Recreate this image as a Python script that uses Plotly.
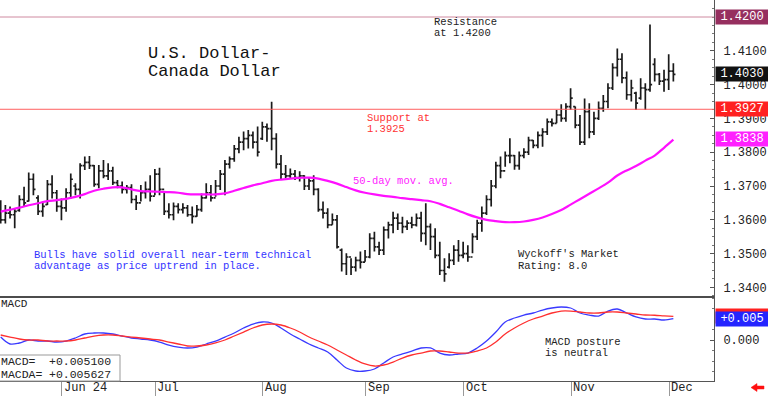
import plotly.graph_objects as go
import pandas as pd

# ---------------- data ----------------
high = [1.3658,1.3644,1.3639,1.3634,1.3673,1.3698,1.3740,1.3737,1.3673,1.3654,
        1.3718,1.3732,1.3688,1.3663,1.3693,1.3737,1.3708,1.3767,1.3787,1.3789,
        1.3762,1.3762,1.3777,1.3767,1.3757,1.3718,1.3713,1.3703,1.3705,1.3673,
        1.3703,1.3713,1.3732,1.3750,1.3754,1.3683,1.3649,1.3651,1.3649,1.3649,
        1.3644,1.3639,1.3644,1.3678,1.3708,1.3703,1.3718,1.3747,1.3777,1.3787,
        1.3821,1.3846,1.3861,1.3866,1.3861,1.3876,1.3890,1.3885,1.3949,1.3856,
        1.3792,1.3762,1.3752,1.3747,1.3744,1.3732,1.3727,1.3732,1.3693,1.3654,
        1.3634,1.3619,1.3614,1.3515,1.3501,1.3486,1.3491,1.3506,1.3511,1.3560,
        1.3565,1.3535,1.3580,1.3594,1.3624,1.3619,1.3609,1.3599,1.3609,1.3619,
        1.3624,1.3649,1.3589,1.3575,1.3535,1.3486,1.3501,1.3525,1.3540,1.3535,
        1.3525,1.3560,1.3600,1.3639,1.3673,1.3718,1.3772,1.3787,1.3802,1.3841,
        1.3792,1.3802,1.3812,1.3846,1.3836,1.3861,1.3871,1.3900,1.3900,1.3925,
        1.3942,1.3945,1.3989,1.3935,1.3910,1.3959,1.3945,1.3920,1.3950,1.3969,
        1.4004,1.4063,1.4107,1.4093,1.4039,1.4014,1.3979,1.4019,1.4004,1.4178,
        1.4078,1.4034,1.4044,1.4090,1.4063]
low = [1.3589,1.3589,1.3604,1.3575,1.3624,1.3639,1.3654,1.3673,1.3614,1.3609,
       1.3644,1.3663,1.3624,1.3599,1.3624,1.3663,1.3673,1.3663,1.3747,1.3750,
       1.3698,1.3693,1.3723,1.3718,1.3703,1.3693,1.3678,1.3678,1.3649,1.3629,
       1.3654,1.3663,1.3654,1.3673,1.3673,1.3614,1.3604,1.3599,1.3619,1.3619,
       1.3609,1.3589,1.3609,1.3624,1.3663,1.3654,1.3668,1.3688,1.3673,1.3752,
       1.3772,1.3797,1.3806,1.3811,1.3811,1.3787,1.3836,1.3831,1.3806,1.3752,
       1.3718,1.3723,1.3723,1.3718,1.3713,1.3688,1.3688,1.3673,1.3624,1.3604,
       1.3575,1.3585,1.3515,1.3447,1.3437,1.3437,1.3447,1.3456,1.3476,1.3486,
       1.3506,1.3496,1.3496,1.3545,1.3560,1.3570,1.3560,1.3570,1.3575,1.3580,
       1.3535,1.3525,1.3511,1.3486,1.3437,1.3417,1.3456,1.3466,1.3476,1.3486,
       1.3476,1.3501,1.3540,1.3565,1.3614,1.3639,1.3693,1.3723,1.3757,1.3767,
       1.3748,1.3748,1.3782,1.3792,1.3812,1.3812,1.3816,1.3851,1.3876,1.3886,
       1.3890,1.3890,1.3925,1.3871,1.3821,1.3821,1.3841,1.3851,1.3895,1.3920,
       1.3930,1.3984,1.4024,1.4004,1.3955,1.3950,1.3925,1.3955,1.3925,1.3979,
       1.4009,1.3999,1.3979,1.3984,1.4009]
open_ = [1.3640,1.3600,1.3620,1.3615,1.3628,1.3660,1.3655,1.3720,1.3665,1.3625,
         1.3645,1.3705,1.3680,1.3640,1.3635,1.3680,1.3700,1.3690,1.3760,1.3770,
         1.3760,1.3705,1.3745,1.3730,1.3745,1.3710,1.3700,1.3690,1.3695,1.3660,
         1.3650,1.3680,1.3690,1.3670,1.3735,1.3690,1.3625,1.3615,1.3640,1.3630,
         1.3635,1.3615,1.3610,1.3630,1.3665,1.3680,1.3665,1.3700,1.3735,1.3765,
         1.3780,1.3810,1.3830,1.3840,1.3850,1.3830,1.3840,1.3875,1.3870,1.3840,
         1.3765,1.3735,1.3730,1.3735,1.3725,1.3730,1.3700,1.3715,1.3690,1.3630,
         1.3620,1.3585,1.3600,1.3510,1.3470,1.3490,1.3460,1.3480,1.3475,1.3490,
         1.3545,1.3520,1.3510,1.3570,1.3585,1.3605,1.3590,1.3580,1.3590,1.3585,
         1.3605,1.3560,1.3580,1.3550,1.3495,1.3450,1.3460,1.3480,1.3510,1.3495,
         1.3500,1.3490,1.3550,1.3590,1.3620,1.3660,1.3700,1.3760,1.3745,1.3790,
         1.3790,1.3760,1.3790,1.3800,1.3835,1.3820,1.3850,1.3860,1.3890,1.3885,
         1.3910,1.3900,1.3935,1.3935,1.3880,1.3830,1.3920,1.3860,1.3900,1.3930,
         1.3950,1.3990,1.4050,1.4075,1.4020,1.3970,1.3975,1.3960,1.3990,1.3985,
         1.4060,1.4030,1.4010,1.4015,1.4040]
close = [1.3600,1.3620,1.3615,1.3625,1.3660,1.3650,1.3720,1.3690,1.3625,1.3640,
         1.3705,1.3680,1.3640,1.3635,1.3680,1.3720,1.3690,1.3760,1.3770,1.3760,
         1.3705,1.3745,1.3730,1.3745,1.3710,1.3700,1.3690,1.3695,1.3660,1.3650,
         1.3680,1.3690,1.3670,1.3735,1.3690,1.3625,1.3615,1.3640,1.3630,1.3635,
         1.3615,1.3610,1.3630,1.3665,1.3680,1.3665,1.3700,1.3735,1.3765,1.3780,
         1.3810,1.3830,1.3840,1.3850,1.3830,1.3800,1.3875,1.3870,1.3840,1.3765,
         1.3735,1.3730,1.3735,1.3725,1.3730,1.3700,1.3715,1.3690,1.3630,1.3620,
         1.3585,1.3600,1.3520,1.3470,1.3490,1.3460,1.3480,1.3475,1.3490,1.3545,
         1.3520,1.3510,1.3570,1.3585,1.3605,1.3590,1.3580,1.3590,1.3585,1.3605,
         1.3560,1.3580,1.3550,1.3495,1.3450,1.3440,1.3480,1.3510,1.3495,1.3500,
         1.3490,1.3550,1.3590,1.3620,1.3660,1.3700,1.3760,1.3745,1.3790,1.3790,
         1.3760,1.3790,1.3800,1.3835,1.3820,1.3850,1.3860,1.3890,1.3885,1.3910,
         1.3900,1.3935,1.3960,1.3880,1.3830,1.3920,1.3860,1.3900,1.3930,1.3950,
         1.3990,1.4050,1.4075,1.4020,1.3970,1.3990,1.3945,1.3990,1.3985,1.4000,
         1.4030,1.4010,1.4015,1.4040,1.4030]

# line series sampled every second bar (bar index) plus the last bar
line_idx = list(range(0, 143, 2)) + [144]
ma50 = [1.3624,1.3630,1.3636,1.3643,1.3649,1.3655,1.3658,1.3662,1.3668,1.3676,
        1.3686,1.3692,1.3696,1.3696,1.3690,1.3685,1.3684,1.3683,1.3682,1.3680,
        1.3676,1.3675,1.3675,1.3675,1.3678,1.3686,1.3694,1.3702,1.3708,1.3715,
        1.3719,1.3722,1.3724,1.3725,1.3722,1.3715,1.3707,1.3697,1.3687,1.3680,
        1.3675,1.3671,1.3668,1.3664,1.3661,1.3658,1.3655,1.3647,1.3637,1.3627,
        1.3616,1.3607,1.3600,1.3596,1.3593,1.3593,1.3595,1.3600,1.3607,1.3617,
        1.3629,1.3645,1.3661,1.3677,1.3693,1.3710,1.3731,1.3746,1.3759,1.3775,
        1.3790,1.3813,1.3837]
macd = [0.00071,-0.00095,-0.00071,0.0,-0.00024,-0.00024,-0.00048,-0.00024,0.00048,0.00143,
        0.00167,0.00167,0.00143,0.00095,0.00048,0.00024,0.0,-0.00048,-0.00119,-0.00167,
        -0.00190,-0.00167,-0.00095,-0.00024,0.00071,0.00167,0.00286,0.00381,0.00429,0.00405,
        0.00286,0.00143,0.00024,-0.00095,-0.00190,-0.00286,-0.00476,-0.00667,-0.00738,-0.00738,
        -0.00690,-0.00548,-0.00405,-0.00333,-0.00262,-0.00190,-0.00190,-0.00310,-0.00357,-0.00333,
        -0.00310,-0.00190,-0.00024,0.00190,0.00429,0.00524,0.00595,0.00643,0.00714,0.00762,
        0.00786,0.00762,0.00643,0.00595,0.00571,0.00690,0.00738,0.00643,0.00548,0.00500,
        0.00500,0.00476,0.00510]
macda = [0.00119,0.00071,0.00024,0.0,0.0,-0.00024,-0.00024,-0.00024,0.0,0.00048,
         0.00095,0.00119,0.00119,0.00095,0.00071,0.00048,0.00024,0.0,-0.00048,-0.00095,
         -0.00143,-0.00143,-0.00119,-0.00071,0.0,0.00095,0.00190,0.00286,0.00357,0.00381,
         0.00357,0.00286,0.00190,0.00071,-0.00024,-0.00119,-0.00238,-0.00357,-0.00476,-0.00571,
         -0.00619,-0.00595,-0.00524,-0.00429,-0.00357,-0.00310,-0.00262,-0.00262,-0.00286,-0.00310,
         -0.00310,-0.00262,-0.00190,-0.00048,0.00143,0.00286,0.00405,0.00500,0.00571,0.00643,
         0.00690,0.00690,0.00667,0.00643,0.00643,0.00667,0.00667,0.00643,0.00619,0.00595,
         0.00590,0.00575,0.005627]

month_labels = ["Jun 24", "Jul", "Aug", "Sep", "Oct", "Nov", "Dec"]
price_ticks = [1.34, 1.35, 1.36, 1.37, 1.38, 1.39, 1.40, 1.41]
resistance = 1.4200
support = 1.3927
last_close = 1.4030
last_ma = 1.3838
macd_last = 0.005100
macda_last = 0.005627

# ---------------- helpers ----------------
W, H = 768, 396
PL, PR, PT, PB = 0, 714, 0, 381   # plot area in pixels
def xp(px):
    return (px - PL) / (PR - PL)
def yp(py):
    return (PB - py) / (PB - PT)

dates = pd.bdate_range("2024-05-14", periods=len(close))
month_idx = [i for i in range(1, len(dates)) if dates[i].month != dates[i - 1].month]
tick_pos = [i - 0.9 for i in month_idx]
xi = list(range(len(close)))

MONO = "Liberation Mono"
split = yp(297)

fig = go.Figure()
fig.add_trace(go.Ohlc(x=xi, open=open_, high=high, low=low, close=close,
                      increasing=dict(line=dict(color="#1a1a1a", width=1.7)),
                      decreasing=dict(line=dict(color="#1a1a1a", width=1.7)),
                      tickwidth=0.45, hoverinfo="skip", xaxis="x", yaxis="y"))
fig.add_trace(go.Scatter(x=line_idx, y=ma50, mode="lines", line=dict(color="#ff10ff", width=2.2),
                         line_shape="spline", hoverinfo="skip", xaxis="x", yaxis="y"))
fig.add_trace(go.Scatter(x=line_idx, y=macd, mode="lines", line=dict(color="#3a3aff", width=1.3),
                         line_shape="spline", hoverinfo="skip", xaxis="x2", yaxis="y2"))
fig.add_trace(go.Scatter(x=line_idx, y=macda, mode="lines", line=dict(color="#ff3030", width=1.3),
                         line_shape="spline", hoverinfo="skip", xaxis="x2", yaxis="y2"))

xr = [-0.15, 152.7]
axfont = dict(family=MONO, size=12, color="#222")
fig.update_layout(
    width=W, height=H, margin=dict(l=PL, r=W - PR, t=PT, b=H - PB),
    paper_bgcolor="white", plot_bgcolor="white", showlegend=False,
    xaxis=dict(domain=[0, 1], anchor="y", range=xr, showticklabels=False, ticks="",
               showgrid=False, zeroline=False, showline=False, rangeslider=dict(visible=False)),
    xaxis2=dict(domain=[0, 1], anchor="y2", range=xr, matches="x", tickmode="array",
                tickvals=tick_pos, showticklabels=False, ticks="outside", ticklen=15,
                tickcolor="#999", tickwidth=1, showgrid=False, zeroline=False,
                showline=True, linecolor="#555", linewidth=1),
    yaxis=dict(domain=[split, 1], anchor="x", side="right", range=[1.33716, 1.42503],
               tickmode="array", tickvals=price_ticks, tickformat=".4f", tickfont=axfont,
               ticks="inside", ticklen=4, tickcolor="#555", ticklabelstandoff=6,
               minor=dict(ticks="inside", ticklen=2, tickmode="linear", tick0=1.34,
                          dtick=0.0025, tickcolor="#777"),
               showgrid=False, zeroline=False, showline=True, linecolor="#555", linewidth=1),
    yaxis2=dict(domain=[0, split], anchor="x2", side="right", range=[-0.00976, 0.01024],
                tickmode="array", tickvals=[0], ticktext=["0.000"], tickfont=axfont,
                ticks="inside", ticklen=4, tickcolor="#555", ticklabelstandoff=6,
                minor=dict(ticks="inside", ticklen=2, tickmode="array",
                           tickvals=[-0.0075, -0.005, -0.0025, 0.0025, 0.0075, 0.01],
                           tickcolor="#777"),
                showgrid=False, zeroline=False, showline=True, linecolor="#555", linewidth=1),
)

shapes = []
# resistance & support lines
shapes.append(dict(type="line", xref="paper", yref="y", x0=0, x1=1, y0=resistance, y1=resistance,
                   line=dict(color="#cf8aa0", width=1)))
shapes.append(dict(type="line", xref="paper", yref="y", x0=0, x1=1, y0=support, y1=support,
                   line=dict(color="#ff6060", width=1)))
# pane separator
shapes.append(dict(type="line", xref="paper", yref="paper", x0=0, x1=1, y0=split, y1=split,
                   line=dict(color="#111", width=1.5)))
# MACD value box
shapes.append(dict(type="rect", xref="paper", yref="paper", x0=xp(-1), x1=xp(120), y0=yp(381), y1=yp(355),
                   line=dict(color="#999", width=1), fillcolor="white"))
# red arrow bottom right
ax0, ay = 751, 387.5
path = (f"M {xp(ax0)} {yp(ay)} L {xp(757)} {yp(383.5)} L {xp(757)} {yp(386)} L {xp(764)} {yp(386)} "
        f"L {xp(764)} {yp(389)} L {xp(757)} {yp(389)} L {xp(757)} {yp(391.5)} Z")
shapes.append(dict(type="path", xref="paper", yref="paper", path=path,
                   fillcolor="#ff1010", line=dict(color="#ff1010", width=0.5)))
fig.update_layout(shapes=shapes)

ann = []
def text(x, y, s, size=10.5, color="#222", anchor="left"):
    ann.append(dict(xref="paper", yref="paper", x=xp(x), y=yp(y), text=s, showarrow=False,
                    xanchor=anchor, yanchor="middle", font=dict(family=MONO, size=size, color=color)))

text(146, 53, "U.S. Dollar-", size=17, color="#111")
text(146, 71, "Canada Dollar", size=17, color="#111")
text(432, 22, "Resistance")
text(432, 33, "at 1.4200")
text(365, 118, "Support at", color="#ff3333")
text(365, 129, "1.3925", color="#ff3333")
text(351, 181, "50-day mov. avg.", color="#ff22ff")
text(32, 255, "Bulls have solid overall near-term technical", color="#3333ff")
text(32, 266, "advantage as price uptrend in place.", color="#3333ff")
text(516, 254, "Wyckoff's Market")
text(516, 266, "Rating: 8.0")
text(543, 342, "MACD posture")
text(543, 353, "is neutral")
text(-1, 304, "MACD", size=11)
text(-1, 361, "MACD=", size=11.5)
text(-1, 374, "MACDA=", size=11.5)
text(47, 361, f"+{macd_last:.6f}", size=11.5)
text(47, 374, f"+{macda_last:.6f}", size=11.5)

# month labels
for pos, lab in zip(tick_pos, month_labels):
    ann.append(dict(xref="x2", yref="paper", x=pos, y=yp(388), text=lab, showarrow=False,
                    xanchor="left", yanchor="middle", xshift=0,
                    font=dict(family=MONO, size=12, color="#222")))

# right-side value boxes
def vbox(yref, val, s, bg):
    ann.append(dict(xref="paper", yref=yref, x=1, y=val, text=s, showarrow=False,
                    xanchor="left", yanchor="middle", xshift=1, width=50, height=12,
                    align="center", bgcolor=bg, borderpad=1,
                    font=dict(family=MONO, size=12, color="white")))

vbox("y", resistance, f"{resistance:.4f}", "#962f5f")
vbox("y", last_close, f"{last_close:.4f}", "#111111")
vbox("y", support, f"{support:.4f}", "#ff2020")
vbox("y", last_ma, f"{last_ma:.4f}", "#ff20ff")
vbox("y2", macda_last, "", "#ff2020")
vbox("y2", macd_last, "+0.005", "#2424ff")

fig.update_layout(annotations=ann)
fig.write_html("out.html", config={"displayModeBar": False},
               post_script="document.body.style.margin='0';document.body.style.padding='0';"
                           "document.body.style.overflow='hidden';")
